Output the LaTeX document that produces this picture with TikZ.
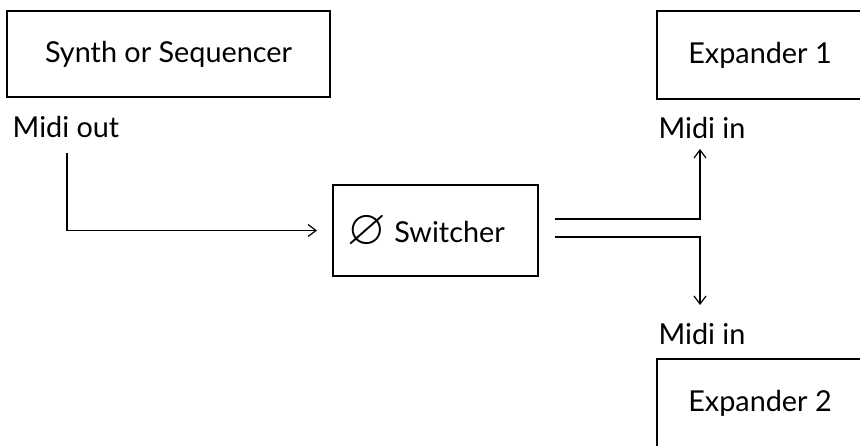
\documentclass[tikz,border=0pt]{standalone}
\usepackage{fontspec}
\usepackage{amssymb}
\setmainfont{Lato}
\usetikzlibrary{arrows.meta}
\begin{document}
\begin{tikzpicture}[x=0.5pt,y=-0.5pt,
  unit/.style={draw, line width=0.6pt, inner sep=0pt, outer sep=0pt,
    font=\fontsize{14.4}{17}\selectfont},
  port/.style={inner sep=0pt, font=\fontsize{14.4}{17}\selectfont},
  wire/.style={line width=0.6pt},
  tip/.style={wire, -{Straight Barb[length=4pt,width=6pt,line width=0.6pt]}}
]
\useasboundingbox (0,0) rectangle (860,445);
\clip (0,0) rectangle (860,445);

% devices
\node[unit, minimum width=161.5pt, minimum height=43pt] (synth) at (168.5,54) {Synth or Sequencer};
\node[unit, minimum width=102.5pt, minimum height=45.5pt] (sw) at (435.5,230.5) {};
\node[inner sep=0pt, font=\fontsize{24.88}{28}\selectfont] (null) at (367,232) {$\varnothing$};
\node[unit, draw=none] (swlabel) at (449.5,232) {Switcher};
\node[unit, minimum width=103pt, minimum height=44pt] (exp1) at (760,55) {Expander 1};
\node[unit, minimum width=103pt, minimum height=44pt] (exp2) at (760,403) {Expander 2};

% port labels
\node[port] (mout) at (66,127) {Midi out};
\node[port] (min1) at (702,128) {Midi in};
\node[port] (min2) at (702,334) {Midi in};

% synth to switcher
\coordinate (outstart) at (67,153);
\draw[tip, shorten >=8pt] (outstart) |- (sw.west);

% switcher fork to the expanders
\coordinate (u0) at (555,219);
\coordinate (u1) at (700,219);
\coordinate (u2) at (700,149);
\coordinate (d0) at (555,237);
\coordinate (d1) at (700,237);
\coordinate (d2) at (700,305);
\draw[tip] (u0) -- (u1) -- (u2);
\draw[tip] (d0) -- (d1) -- (d2);
\end{tikzpicture}
\end{document}
